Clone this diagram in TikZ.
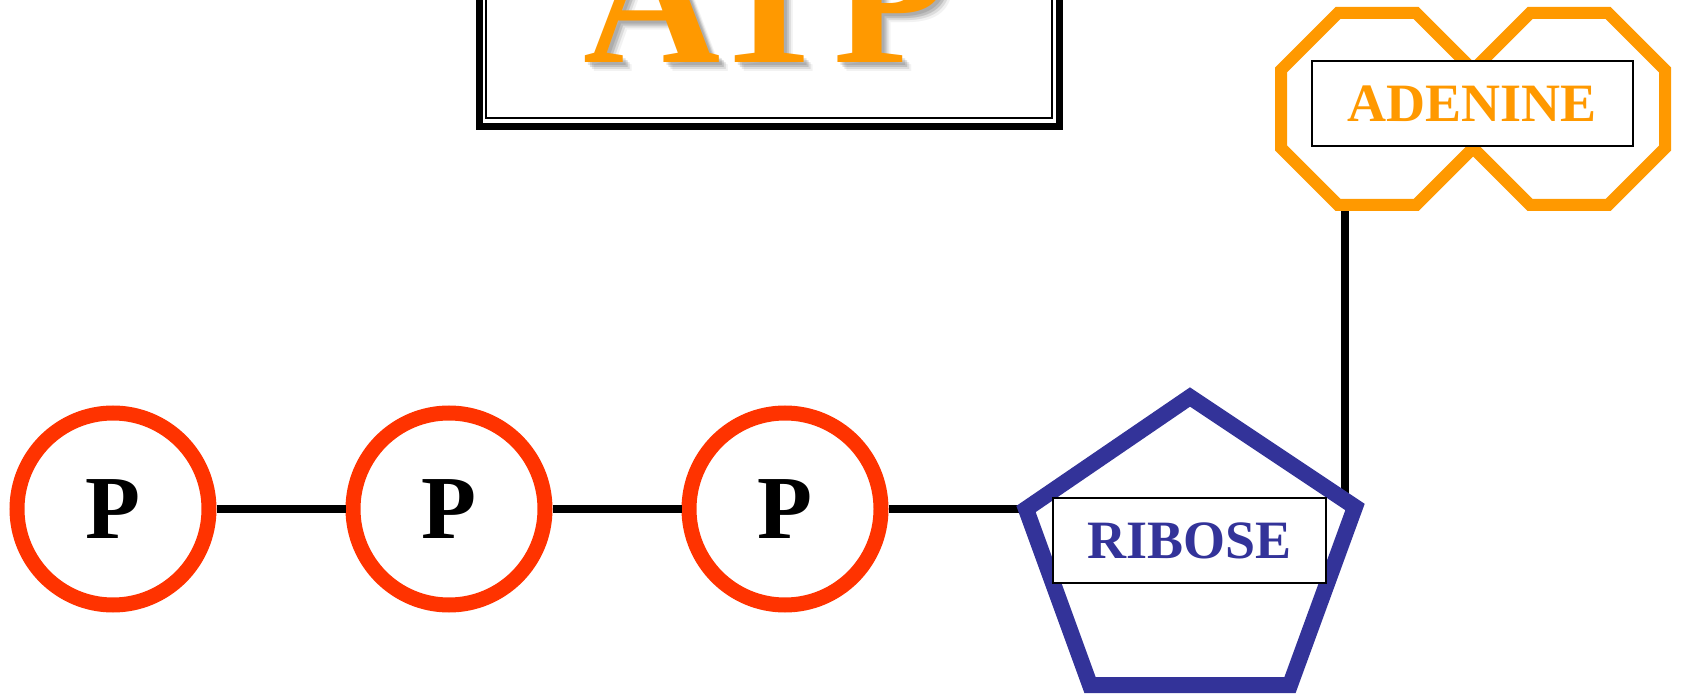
\documentclass[tikz,border=0pt]{standalone}
\usepackage{fontspec}
\setmainfont{Liberation Serif}
\definecolor{pred}{HTML}{FF3300}
\definecolor{porange}{HTML}{FF9900}
\definecolor{pblue}{HTML}{333399}
\tikzset{
  pcirc/.style={circle, draw=pred, line width=15pt, fill=white, minimum size=192pt, inner sep=0pt,
    font=\fontsize{90}{90}\selectfont\bfseries},
  conn/.style={line width=8pt, draw=black},
  lbl/.style={draw=black, fill=white, inner sep=0pt, font=\fontsize{54}{54}\selectfont\bfseries},
  octo/.style={draw=porange, line width=12pt, line join=miter, fill=white},
  penta/.style={draw=pblue, line width=16pt, line join=miter, fill=white},
  atpfont/.style={font=\fontsize{190}{190}\selectfont\bfseries, inner sep=0pt, anchor=base west}
}
\begin{document}
\begin{tikzpicture}[x=1pt,y=-1pt]
\useasboundingbox (0,0) rectangle (1681,700);
\clip (0,0) rectangle (1681,700);
\fill[white] (0,0) rectangle (1681,700);

% ATP title frame
\draw[line width=7pt] (479,-300) rectangle (1059.5,126.5);
\draw[line width=2pt] (486,-300) rectangle (1052,118);
\foreach \d/\o in {3/0.10,5/0.12,7/0.09,9/0.05}
  \node[atpfont, text=black, opacity=\o] (atps\d) at (583+\d,63+\d) {ATP};
\node[atpfont, text=porange] (atp) at (583,63) {ATP};

% coordinates
\coordinate (rT) at (1190,397);
\coordinate (rR) at (1355,507);
\coordinate (rBR) at (1290,685);
\coordinate (rBL) at (1090,685);
\coordinate (rL) at (1026,509);
\coordinate (adB) at (1345,205);
\coordinate (rV) at (1345,500);

% phosphate circles
\node[pcirc] (p1) at (113,509) {P};
\node[pcirc] (p2) at (449,509) {P};
\node[pcirc] (p3) at (785,509) {P};
\draw[conn] (p1) -- (p2);
\draw[conn] (p2) -- (p3);
\draw[conn] (p3) -- (rL);
\draw[conn] (adB) -- (rV);

% ribose pentagon
\draw[penta] (rT) -- (rR) -- (rBR) -- (rBL) -- (rL) -- cycle;

% adenine octagons
\draw[octo] (1281,70) -- (1338,13) -- (1416,13) -- (1473,70) -- (1473,148) -- (1416,205) -- (1338,205) -- (1281,148) -- cycle;
\draw[octo] (1665,70) -- (1608,13) -- (1530,13) -- (1473,70) -- (1473,148) -- (1530,205) -- (1608,205) -- (1665,148) -- cycle;

% labels
\node[lbl, line width=2pt, minimum width=273pt, minimum height=85pt, text=pblue] (ribose) at (1189.5,540.5) {RIBOSE};
\node[lbl, line width=2.5pt, minimum width=321pt, minimum height=85pt, text=porange] (adenine) at (1472.5,103.5) {ADENINE};
\end{tikzpicture}
\end{document}
